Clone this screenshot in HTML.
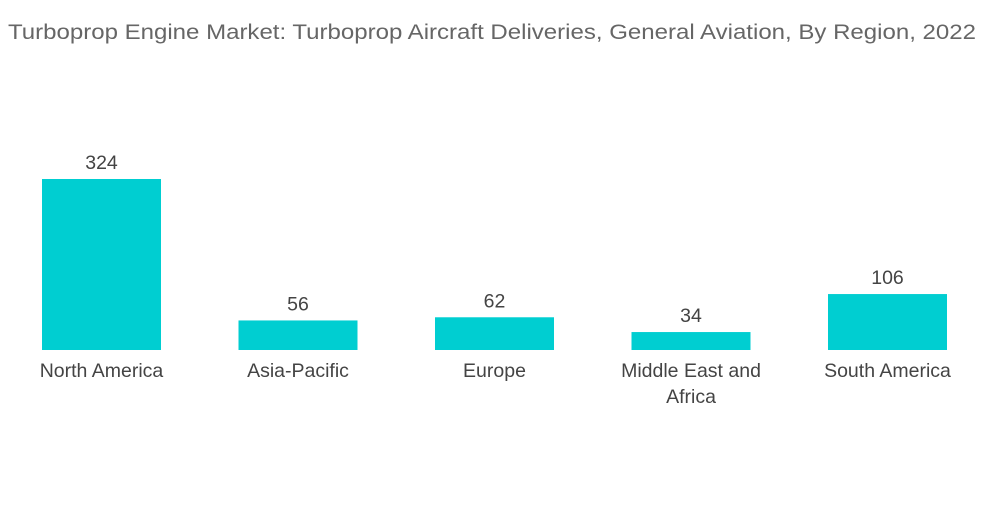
<!DOCTYPE html>
<html><head><meta charset="utf-8"><style>
body{margin:0;background:#fff;width:1000px;height:504px;overflow:hidden;font-family:"Liberation Sans",sans-serif}
svg text{font-family:"Liberation Sans",sans-serif}
</style></head><body>
<svg width="1000" height="504">
<text x="8" y="39" font-size="21" fill="#666" textLength="968" lengthAdjust="spacingAndGlyphs">Turboprop Engine Market: Turboprop Aircraft Deliveries, General Aviation, By Region, 2022</text>
<g id="bars"></g>
</svg>
<script>
const categories=["North America","Asia-Pacific","Europe","Middle East and|Africa","South America"];
const values=[324,56,62,34,106];
const baseY=350, pxPerUnit=171/324, x0=42, step=196.5, barW=119;
const svg=document.getElementById('bars');
const ns="http://www.w3.org/2000/svg";
function yScale(v){return baseY-v*pxPerUnit;}
function xScale(i){return x0+i*step;}
categories.forEach((c,i)=>{
  const r=document.createElementNS(ns,'rect');
  r.setAttribute('x',xScale(i));r.setAttribute('y',yScale(values[i]));
  r.setAttribute('width',barW);r.setAttribute('height',baseY-yScale(values[i]));
  r.setAttribute('fill','#00ced1');
  
  
  svg.appendChild(r);
  const t=document.createElementNS(ns,'text');
  t.setAttribute('x',xScale(i)+barW/2);t.setAttribute('y',yScale(values[i])-10);
  t.setAttribute('text-anchor','middle');t.setAttribute('font-size','19.5');t.setAttribute('fill','#444');
  t.textContent=values[i];
  
  
  svg.appendChild(t);
  c.split('|').forEach((line,j)=>{
    const l=document.createElementNS(ns,'text');
    l.setAttribute('x',xScale(i)+barW/2);l.setAttribute('y',377+j*26);
    l.setAttribute('text-anchor','middle');l.setAttribute('font-size','19.5');l.setAttribute('fill','#444');
    l.textContent=line;
    
    
    svg.appendChild(l);
  });
});
</script>
</body></html>
